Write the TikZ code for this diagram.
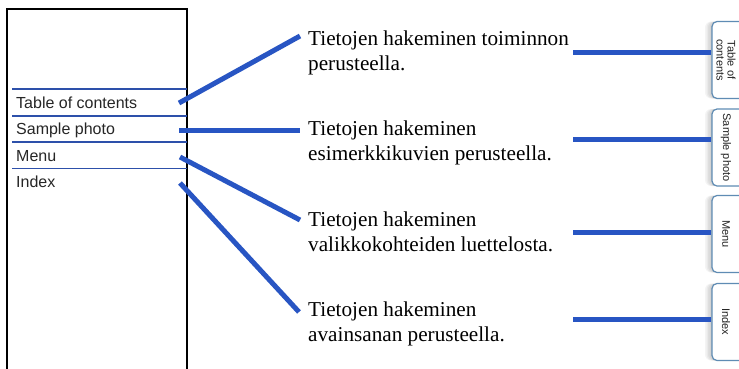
\documentclass[tikz,border=0pt]{standalone}
\usepackage{fontspec}
\setmainfont{Liberation Serif}
\newfontfamily\labfont{Liberation Sans}
\definecolor{connblue}{RGB}{40,85,195}
\definecolor{sepblue}{RGB}{45,80,170}
\definecolor{tabborder}{RGB}{95,140,180}
\definecolor{tabtextc}{RGB}{35,35,35}
\begin{document}
\begin{tikzpicture}[x=1pt,y=-1pt,
  conn/.style={draw=connblue,line width=5pt},
  sepline/.style={draw=sepblue,line width=1.6pt},
  panel/.style={draw=black,line width=2pt},
  menulab/.style={inner sep=0pt,anchor=base west,font=\labfont\fontsize{16}{19}\selectfont,text=black!85},
  desc/.style={inner sep=0pt,anchor=base west,align=left,font=\fontsize{21.2}{25}\selectfont,text=black},
  tabbox/.style={draw=tabborder,line width=1.2pt,fill=white,rounded corners=5pt,minimum width=40pt,minimum height=77pt,inner sep=0pt},
  tabshadow/.style={fill=black,fill opacity=0.045,rounded corners=6pt,minimum width=40pt,minimum height=77pt,inner sep=0pt},
  tabtext/.style={inner sep=0pt,rotate=-90,align=center,font=\labfont\fontsize{11}{11}\selectfont,text=tabtextc}]
\useasboundingbox[fill=white] (0,0) rectangle (739,368);
% left panel
\draw[panel] (7,380) -- (7,9) -- (187,9) -- (187,380);
\foreach \yy in {89,115.7,141.7,168.3} \draw[sepline] (12,\yy) -- (187,\yy);
\node[menulab] (m1) at (16,108) {Table of contents};
\node[menulab] (m2) at (16,134.5) {Sample photo};
\node[menulab] (m3) at (16,161) {Menu};
\node[menulab] (m4) at (16,187.5) {Index};
% descriptions (base anchor = baseline of the last line)
\node[desc] (d1) at (308,70) {Tietojen hakeminen toiminnon\\perusteella.};
\node[desc] (d2) at (308,160) {Tietojen hakeminen\\esimerkkikuvien perusteella.};
\node[desc] (d3) at (308,251) {Tietojen hakeminen\\valikkokohteiden luettelosta.};
\node[desc] (d4) at (308,341) {Tietojen hakeminen\\avainsanan perusteella.};
% left connector ends
\coordinate (a1) at (179,103);
\coordinate (a2) at (179,130);
\coordinate (a3) at (180,157);
\coordinate (a4) at (180,183);
\coordinate (b1) at (300,36);
\coordinate (b2) at (300,130);
\coordinate (b3) at (300,220);
\coordinate (b4) at (299,312);
\draw[conn] (a1) -- (b1);
\draw[conn] (a2) -- (b2);
\draw[conn] (a3) -- (b3);
\draw[conn] (a4) -- (b4);
% tabs with shadow
\foreach \cy/\nm in {60/tab1,147.5/tab2,234/tab3,322/tab4}{
  \foreach \s in {1,2.5,4,5.5,7}
    \node[tabshadow] at (732-\s,\cy) {};
  \node[tabbox] (\nm) at (732,\cy) {};
}
\node[tabtext] (t1) at ([xshift=-6pt]tab1.center) {Table of\\contents};
\node[tabtext] (t2) at ([xshift=-6pt]tab2.center) {Sample photo};
\node[tabtext] (t3) at ([xshift=-6pt]tab3.center) {Menu};
\node[tabtext] (t4) at ([xshift=-6pt]tab4.center) {Index};
% right connectors
\coordinate (r1) at (573,52);
\coordinate (r2) at (573,139);
\coordinate (r3) at (573,232);
\coordinate (r4) at (573,319);
\draw[conn] (r1) -- (r1 -| tab1.west);
\draw[conn] (r2) -- (r2 -| tab2.west);
\draw[conn] (r3) -- (r3 -| tab3.west);
\draw[conn] (r4) -- (r4 -| tab4.west);
\end{tikzpicture}
\end{document}
